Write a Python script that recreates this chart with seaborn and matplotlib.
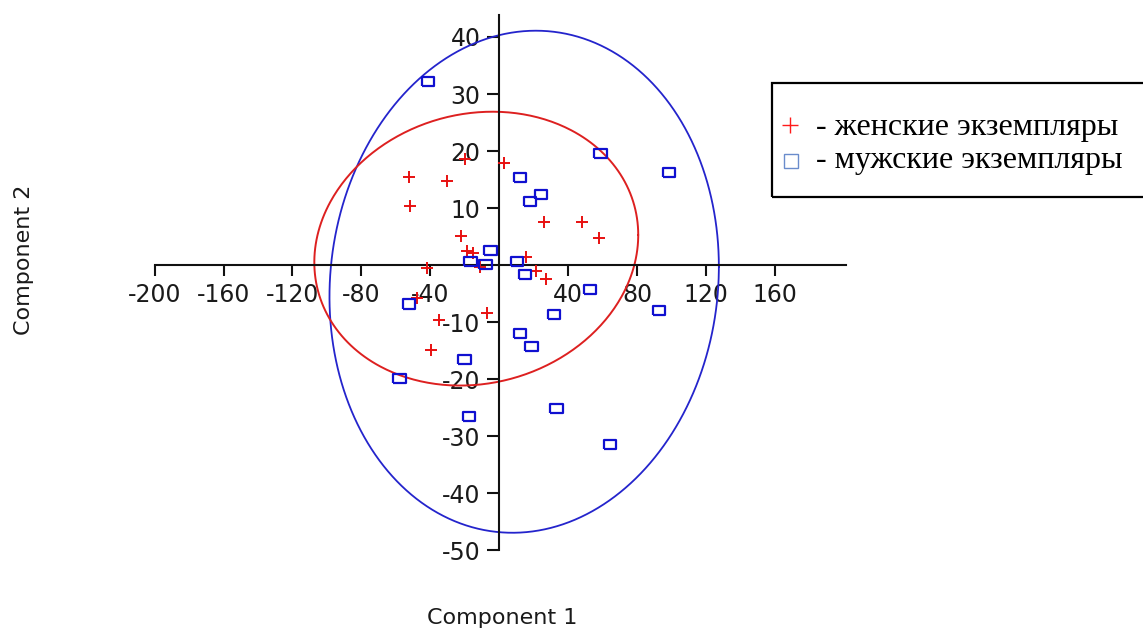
import numpy as np
import matplotlib
matplotlib.use("Agg")
import matplotlib.pyplot as plt
from matplotlib.patches import Rectangle
from matplotlib.lines import Line2D
import seaborn as sns

# ---------------- data ----------------
female_x = [-19.9, 2.7, -52.4, -30.5, -51.8, 25.9, 47.8, 57.8, -22.2, -18.6,
            -15.1, 15.3, -42.1, -11.2, 21.1, 26.9, -47.9, -7.0, -34.8, -39.8]
female_y = [18.6, 17.9, 15.4, 14.8, 10.4, 7.5, 7.6, 4.7, 5.1, 2.4,
            2.1, 1.4, -0.5, -0.3, -1.0, -2.5, -5.7, -8.3, -9.6, -14.9]

male_x = [-41.2, 58.8, 98.5, 12.0, 24.2, 17.8, -5.0, -16.6, -8.1, 10.4, 14.9,
          52.6, -52.4, 92.8, 31.9, 12.0, 18.8, -20.3, -58.0, 33.3, -17.4, 64.2]
male_y = [32.2, 19.5, 16.3, 15.4, 12.4, 11.1, 2.5, 0.6, 0.2, 0.6, -1.6,
          -4.2, -6.8, -7.9, -8.7, -11.9, -14.2, -16.6, -19.8, -25.1, -26.6, -31.5]

# 95% ellipses: center x, center y, semi-axis x, semi-axis y, phase (tilt)
female_ellipse = [-13.3, 2.9, 94.0, 24.0, 0.10]
male_ellipse = [14.5, -2.9, 113.0, 44.0, 0.06]

x_ticks = [-200, -160, -120, -80, -40, 40, 80, 120, 160]
y_ticks = [40, 30, 20, 10, -10, -20, -30, -40, -50]
x_tick_labels = ["-200", "-160", "-120", "-80", "-40", "40", "80", "120", "160"]
y_tick_labels = ["40", "30", "20", "10", "-10", "-20", "-30", "-40", "-50"]

legend_labels = ["- женские экземпляры", "- мужские экземпляры"]
x_label = "Component 1"
y_label = "Component 2"

# ---------------- style ----------------
sns.set_style("white")
plt.rcParams["font.family"] = ["DejaVu Sans"]
plt.rcParams["axes.unicode_minus"] = False

W, H = 1143, 633
fig = plt.figure(figsize=(W / 100, H / 100), dpi=100)
fig.patch.set_facecolor("white")

ax = fig.add_axes([154.6 / W, 1 - 550.45 / H, 690.9 / W, 535.15 / H])
ax.set_facecolor("white")

RED = "#e81010"
BLUE = "#1010d0"

def ellipse_xy(p):
    cx, cy, a, b, ph = p
    t = np.linspace(0, 2 * np.pi, 400)
    return cx + a * np.cos(t), cy + b * np.sin(t + ph)

ex, ey = ellipse_xy(male_ellipse)
ax.plot(ex, ey, color="#2424cc", lw=1.3, zorder=2)
ex, ey = ellipse_xy(female_ellipse)
ax.plot(ex, ey, color="#dd2020", lw=1.4, zorder=2)

rect_marker = [(-1, -0.72), (1, -0.72), (1, 0.72), (-1, 0.72), (-1, -0.72)]

sns.scatterplot(x=female_x, y=female_y, marker="+", color=RED, s=72,
                linewidth=1.4, ax=ax, zorder=3)
sns.scatterplot(x=male_x, y=male_y, marker=rect_marker, color=BLUE,
                facecolor="none", edgecolor=BLUE, s=82, linewidth=1.6,
                ax=ax, zorder=3)

ax.set_xlim(-200, 201)
ax.set_ylim(-50, 43.8)

for side in ["top", "right"]:
    ax.spines[side].set_visible(False)
ax.spines["left"].set_position(("data", 0))
ax.spines["bottom"].set_position(("data", 0))
for side in ["left", "bottom"]:
    ax.spines[side].set_linewidth(1.5)
    ax.spines[side].set_color("#111111")

ax.set_xticks(x_ticks)
ax.set_xticklabels(x_tick_labels)
ax.set_yticks(y_ticks)
ax.set_yticklabels(y_tick_labels)
ax.tick_params(axis="x", direction="out", length=7.7, width=1.5,
               color="#111111", pad=5, labelsize=17, labelcolor="#1a1a1a")
ax.tick_params(axis="y", direction="out", length=9, width=1.5,
               color="#111111", pad=4.5, labelsize=17, labelcolor="#1a1a1a")
ax.tick_params(left=True, bottom=True)

ax.set_xlabel(x_label, fontsize=16, color="#1a1a1a")
ax.set_ylabel(y_label, fontsize=16, color="#1a1a1a")
ax.xaxis.set_label_coords((502 - 154.6) / 690.9, (550.45 - 608) / 535.15)
ax.yaxis.set_label_coords((34 - 154.6) / 690.9, (550.45 - 260) / 535.15)

# ---------------- legend box ----------------
fig.add_artist(Rectangle((772 / W, 1 - 196.7 / H), 0.4, (196.7 - 83.3) / H,
                         transform=fig.transFigure, fill=False,
                         edgecolor="black", linewidth=1.6, clip_on=False))
fig.add_artist(Line2D([790 / W], [1 - 125 / H], marker="+", markersize=12,
                      markeredgewidth=1.0, color="#ff1a1a", linestyle="none",
                      transform=fig.transFigure))
fig.add_artist(Line2D([790.7 / W], [1 - 160.7 / H], marker="s", markersize=9.5,
                      markeredgewidth=1.0, markerfacecolor="none",
                      markeredgecolor="#6a8ccc", linestyle="none",
                      transform=fig.transFigure))
fig.text(816 / W, 1 - 135 / H, legend_labels[0], family="Liberation Serif",
         fontsize=23, ha="left", va="baseline", color="black")
fig.text(816 / W, 1 - 167.7 / H, legend_labels[1], family="Liberation Serif",
         fontsize=23, ha="left", va="baseline", color="black")

fig.savefig("out.png", dpi=100, facecolor="white")
